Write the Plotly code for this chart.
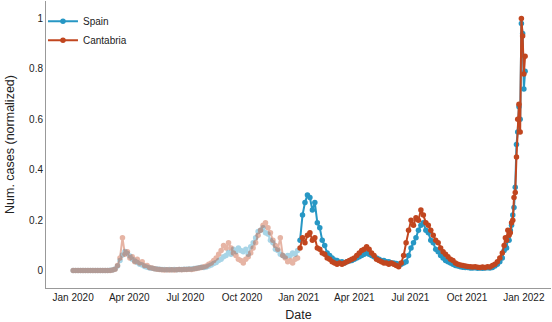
import pandas as pd
import plotly.graph_objects as go

# sampling dates: every 4 days, then every 2 days for the final surge
dates = pd.date_range("2020-01-01", "2021-11-27", freq="4D").append(
    pd.date_range("2021-11-30", "2022-01-03", freq="2D"))

spain = [
    0, 0, 0, 0, 0, 0, 0, 0, 0, 0,
    0, 0, 0, 0, 0, 0.001, 0.002, 0.006, 0.018, 0.04,
    0.062, 0.076, 0.068, 0.058, 0.045, 0.038, 0.032, 0.025, 0.022, 0.016,
    0.013, 0.01, 0.009, 0.007, 0.006, 0.005, 0.004, 0.004, 0.003, 0.004,
    0.003, 0.004, 0.003, 0.004, 0.004, 0.005, 0.005, 0.006, 0.006, 0.008,
    0.009, 0.011, 0.013, 0.012, 0.014, 0.018, 0.022, 0.028, 0.032, 0.04,
    0.045, 0.055, 0.06, 0.072, 0.065, 0.085, 0.075, 0.09, 0.08, 0.075,
    0.085, 0.065, 0.095, 0.11, 0.13, 0.155, 0.16, 0.17, 0.15, 0.145,
    0.12, 0.11, 0.085, 0.08, 0.065, 0.06, 0.055, 0.06, 0.06, 0.07,
    0.065, 0.08, 0.12, 0.22, 0.27, 0.3, 0.29, 0.24, 0.27, 0.19,
    0.17, 0.12, 0.1, 0.07, 0.06, 0.05, 0.042, 0.04, 0.033, 0.035,
    0.03, 0.035, 0.038, 0.04, 0.045, 0.05, 0.055, 0.06, 0.065, 0.07,
    0.065, 0.06, 0.055, 0.05, 0.045, 0.04, 0.04, 0.035, 0.035, 0.03,
    0.03, 0.028, 0.025, 0.025, 0.03, 0.035, 0.06, 0.09, 0.11, 0.13,
    0.16, 0.18, 0.19, 0.16, 0.15, 0.12, 0.11, 0.085, 0.075, 0.06,
    0.05, 0.04, 0.035, 0.03, 0.025, 0.02, 0.018, 0.015, 0.013, 0.012,
    0.012, 0.01, 0.01, 0.011, 0.009, 0.01, 0.009, 0.01, 0.011, 0.01,
    0.012, 0.018, 0.025, 0.035, 0.05,
    0.08, 0.1, 0.09, 0.13, 0.12, 0.16, 0.18, 0.22, 0.25, 0.33,
    0.5, 0.55, 0.65, 0.6, 0.98, 0.94, 0.72, 0.79,
]

cantabria = [
    0, 0, 0, 0, 0, 0, 0, 0, 0, 0,
    0, 0, 0, 0, 0, 0, 0.002, 0.005, 0.02, 0.05,
    0.13, 0.065, 0.075, 0.05, 0.055, 0.035, 0.045, 0.03, 0.035, 0.02,
    0.02, 0.012, 0.01, 0.007, 0.005, 0.004, 0.003, 0.002, 0.003, 0.002,
    0.003, 0.002, 0.003, 0.004, 0.003, 0.004, 0.004, 0.005, 0.004, 0.006,
    0.008, 0.01, 0.012, 0.015, 0.018, 0.025, 0.03, 0.04, 0.05, 0.065,
    0.08, 0.1, 0.09, 0.11, 0.09, 0.07, 0.06, 0.045, 0.04, 0.03,
    0.045, 0.055, 0.07, 0.09, 0.11, 0.14, 0.16, 0.18, 0.19, 0.17,
    0.15, 0.12, 0.1, 0.085, 0.13, 0.06, 0.05, 0.035, 0.04, 0.03,
    0.045, 0.05, 0.09, 0.13, 0.11, 0.14, 0.15, 0.12, 0.13, 0.09,
    0.085, 0.07, 0.065, 0.05, 0.045, 0.035, 0.03, 0.025, 0.03, 0.025,
    0.03, 0.035, 0.04, 0.045, 0.05, 0.06, 0.07, 0.08, 0.085, 0.095,
    0.085, 0.07, 0.06, 0.045, 0.04, 0.035, 0.03, 0.03, 0.025, 0.03,
    0.025, 0.02, 0.015, 0.03, 0.06, 0.11, 0.16, 0.2, 0.18, 0.21,
    0.2, 0.24, 0.22, 0.19, 0.18, 0.16, 0.14, 0.12, 0.11, 0.09,
    0.075, 0.065, 0.055, 0.045, 0.04, 0.03, 0.025, 0.022, 0.02, 0.018,
    0.016, 0.015, 0.014, 0.015, 0.013, 0.012, 0.014, 0.012, 0.015, 0.014,
    0.02, 0.025, 0.035, 0.05, 0.07,
    0.1, 0.13, 0.12, 0.16, 0.14, 0.15, 0.19, 0.2, 0.29, 0.31,
    0.45, 0.6, 0.66, 0.55, 1.0, 0.93, 0.78, 0.85,
]

y_ticks = [0, 0.2, 0.4, 0.6, 0.8, 1]
x_ticks = ["2020-01-01", "2020-04-01", "2020-07-01", "2020-10-01", "2021-01-01",
           "2021-04-01", "2021-07-01", "2021-10-01", "2022-01-01"]
x_labels = ["Jan 2020", "Apr 2020", "Jul 2020", "Oct 2020", "Jan 2021",
            "Apr 2021", "Jul 2021", "Oct 2021", "Jan 2022"]

df = pd.DataFrame({"date": dates, "Spain": spain, "Cantabria": cantabria})
old = df[df["date"] < "2021-01-01"]
new = df[df["date"] >= "2021-01-01"]

colors = {"Spain": "#2797c4", "Cantabria": "#c1461f"}

fig = go.Figure()
for name in ["Spain", "Cantabria"]:
    fig.add_trace(go.Scatter(x=old["date"], y=old[name], mode="lines+markers",
                             line=dict(color=colors[name], width=2),
                             marker=dict(size=5.5, color=colors[name]),
                             opacity=0.4, showlegend=False, hoverinfo="skip"))
for name in ["Spain", "Cantabria"]:
    fig.add_trace(go.Scatter(x=new["date"], y=new[name], mode="lines+markers", name=name,
                             line=dict(color=colors[name], width=2),
                             marker=dict(size=5.5, color=colors[name])))

fig.update_layout(
    width=552, height=322,
    margin=dict(l=46, r=1, t=1, b=34),
    plot_bgcolor="white", paper_bgcolor="white",
    font=dict(family="Liberation Sans, Arial, sans-serif", size=10, color="#222"),
    legend=dict(x=-0.006, y=0.98, xanchor="left", yanchor="top",
                bgcolor="rgba(0,0,0,0)", font=dict(size=10)),
)
fig.update_xaxes(
    range=["2019-11-18", "2022-02-14"], automargin=False,
    tickvals=x_ticks, ticktext=x_labels,
    showgrid=False, zeroline=False, showline=True, linecolor="#999", linewidth=1,
    ticks="", title=dict(text="Date", font=dict(size=12.5), standoff=10),
)
fig.update_yaxes(
    range=[-0.069, 1.069], automargin=False,
    tickvals=y_ticks, ticktext=["0", "0.2", "0.4", "0.6", "0.8", "1"],
    showgrid=False, zeroline=False, showline=True, linecolor="#999", linewidth=1,
    ticks="", title=dict(text="Num. cases (normalized)", font=dict(size=12.5), standoff=11),
)

# drop the page's default body margin so the figure fills the window
fig.write_html("out.html", config={"displayModeBar": False},
               post_script="document.body.style.margin='0';")
